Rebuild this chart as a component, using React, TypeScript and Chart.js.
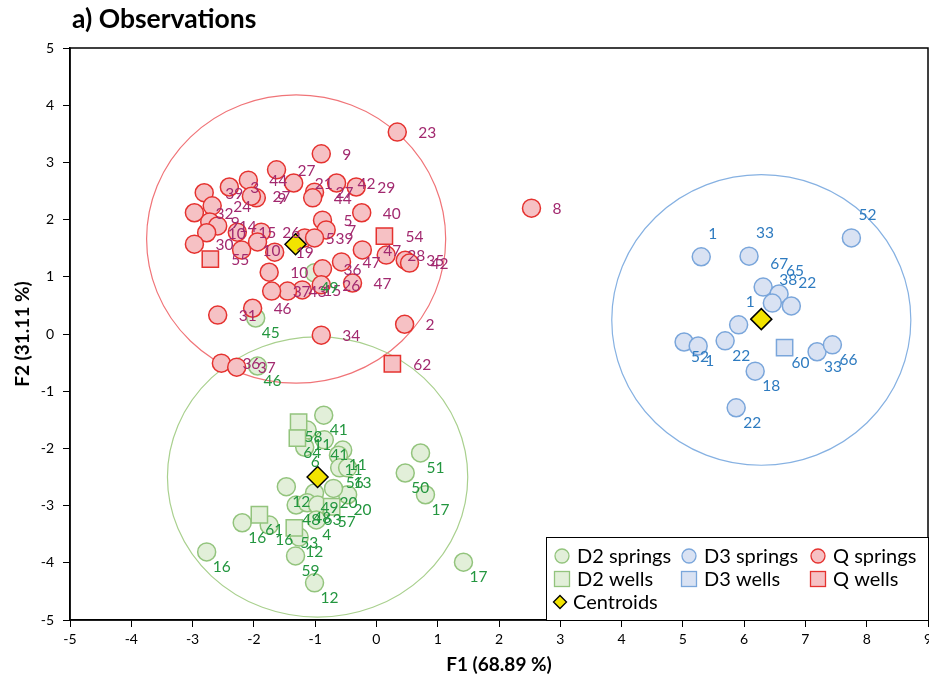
import React, { useEffect, useRef } from "react";
import { Chart, registerables } from "chart.js";
Chart.register(...registerables);

// ---------- DATA ----------
const qSpringX = [0.34, 2.53, -0.9, -1.63, -2.09, -1.35, -0.65, -0.33, -1.01, -1.04, -0.24, -0.88, -0.82, -1.17, -1.01, -0.23, 0.16, 0.47, 0.54, -0.57, -0.88, -0.39, -0.9, -1.21, -1.45, -1.71, 0.46, -0.9, -2.59, -2.02, -2.53, -2.28, -2.97, -2.81, -2.4, -1.96, -2.04, -2.68, -2.72, -2.59, -2.77, -2.27, -1.88, -2.97, -2.2, -1.94, -1.66, -1.75];
const qSpringY = [3.53, 2.2, 3.15, 2.87, 2.69, 2.64, 2.64, 2.57, 2.48, 2.38, 2.12, 1.99, 1.82, 1.68, 1.68, 1.47, 1.38, 1.29, 1.24, 1.26, 1.14, 0.89, 0.86, 0.77, 0.75, 0.75, 0.17, -0.02, 0.33, 0.45, -0.51, -0.58, 2.12, 2.47, 2.57, 2.38, 2.41, 2.24, 1.96, 1.89, 1.77, 1.78, 1.78, 1.57, 1.47, 1.61, 1.43, 1.08];
const qSpringLabels = ["23", "8", "9", "27", "44", "21", "42", "29", "27", "44", "40", "5", "7", "5", "39", "47", "28", "35", "42", "47", "36", "47", "26", "15", "43", "37", "2", "34", "31", "46", "36", "37", "32", "39", "3", "9", "27", "24", "9", "14", "10", "15", "26", "30", "10", "", "19", "10"];

const qWellX = [0.13, -2.71, 0.26];
const qWellY = [1.71, 1.31, -0.52];
const qWellLabels = ["54", "55", "62"];

const d3SpringX = [7.75, 5.3, 6.08, 6.31, 6.57, 6.46, 6.77, 5.91, 5.02, 5.25, 5.69, 7.19, 7.44, 6.18, 5.87];
const d3SpringY = [1.68, 1.35, 1.36, 0.82, 0.7, 0.54, 0.49, 0.16, -0.14, -0.21, -0.12, -0.31, -0.19, -0.65, -1.29];
const d3SpringLabels = ["52", "1", "33", "67", "65", "38", "22", "1", "52", "1", "22", "33", "66", "18", "22"];

const d3WellX = [6.66];
const d3WellY = [-0.24];
const d3WellLabels = ["60"];

const d2SpringX = [-0.86, -1.13, -0.85, -1.17, -0.55, -0.62, -0.6, -0.47, -1.47, -1.01, -0.47, -0.7, -1.31, -1.13, -0.96, -0.98, -2.19, -1.75, -1.26, -1.32, -2.77, -1.01, 0.72, 0.47, 0.8, 1.42, -1.97, -1.94, -1.01];
const d2SpringY = [-1.42, -1.68, -1.85, -1.98, -2.03, -2.12, -2.34, -2.34, -2.67, -2.78, -2.81, -2.7, -2.99, -2.95, -2.99, -3.25, -3.3, -3.34, -3.55, -3.88, -3.81, -4.35, -2.08, -2.43, -2.81, -3.99, 0.28, -0.56, 1.07];
const d2SpringLabels = ["41", "11", "41", "6", "11", "11", "56", "13", "12", "49", "20", "20", "48", "48", "63", "4", "16", "16", "12", "59", "16", "12", "51", "50", "17", "17", "45", "46", "49"];

const d2WellX = [-1.27, -1.29, -1.91, -1.34, -0.73];
const d2WellY = [-1.54, -1.82, -3.16, -3.39, -3.02];
const d2WellLabels = ["58", "64", "61", "53", "57"];

const centroidX = [-1.32, -0.96, 6.28];
const centroidY = [1.57, -2.5, 0.26];

// confidence ellipses (centre and semi-axes in F1/F2 units)
const ellipseCX = [-1.31, -0.96, 6.28];
const ellipseCY = [1.66, -2.5, 0.245];
const ellipseRX = [2.44, 2.45, 2.44];
const ellipseRY = [2.52, 2.45, 2.54];

const xTickValues = [-5, -4, -3, -2, -1, 0, 1, 2, 3, 4, 5, 6, 7, 8, 9];
const yTickValues = [-5, -4, -3, -2, -1, 0, 1, 2, 3, 4, 5];

// ---------- STYLES ----------
const RED = { fill: "#F6C1C4", stroke: "#E5322F", text: "#A2296F", ell: "#F07478" };
const GREEN = { fill: "#E2EFD9", stroke: "#93C47D", text: "#23963F", ell: "#A9D08E" };
const BLUE = { fill: "#D9E2F3", stroke: "#7AA6DB", text: "#2E7BC0", ell: "#86B1E2" };
const FONT = "Lato, 'Open Sans', sans-serif";

const pts = (xs: number[], ys: number[]) => xs.map((x, i) => ({ x, y: ys[i] }));

export default function App() {
  const ref = useRef<HTMLCanvasElement | null>(null);

  useEffect(() => {
    if (!ref.current) return;

    const ellipsePlugin = {
      id: "ellipses",
      beforeDatasetsDraw(chart: any) {
        const { ctx, scales, chartArea } = chart;
        const xs = scales.x, ys = scales.y;
        const cols = [RED.ell, GREEN.ell, BLUE.ell];
        ctx.save();
        ctx.beginPath();
        ctx.rect(chartArea.left, chartArea.top, chartArea.right - chartArea.left, chartArea.bottom - chartArea.top);
        ctx.clip();
        for (let i = 0; i < ellipseCX.length; i++) {
          const cx = xs.getPixelForValue(ellipseCX[i]);
          const cy = ys.getPixelForValue(ellipseCY[i]);
          const rx = Math.abs(xs.getPixelForValue(ellipseCX[i] + ellipseRX[i]) - cx);
          const ry = Math.abs(ys.getPixelForValue(ellipseCY[i] + ellipseRY[i]) - cy);
          ctx.beginPath();
          ctx.ellipse(cx, cy, rx, ry, 0, 0, Math.PI * 2);
          ctx.strokeStyle = cols[i];
          ctx.lineWidth = 1.2;
          ctx.stroke();
        }
        ctx.restore();
      },
    };

    const labelPlugin = {
      id: "pointLabels",
      afterDatasetsDraw(chart: any) {
        const { ctx } = chart;
        ctx.save();
        ctx.font = `15.5px ${FONT}`;
        ctx.textBaseline = "middle";
        ctx.textAlign = "left";
        chart.data.datasets.forEach((ds: any, di: number) => {
          if (!ds.pointLabels) return;
          const meta = chart.getDatasetMeta(di);
          meta.data.forEach((el: any, i: number) => {
            const txt = ds.pointLabels[i];
            if (!txt) return;
            let dx = 21, dy = 1;
            if (ds.group === "green") { dx = 6; dy = 15; }
            if (ds.group === "blue") {
              const yv = ds.data[i].y;
              if (yv >= 0) { dx = 7; dy = -23; } else { dx = 7; dy = 15; }
            }
            ctx.fillStyle = ds.labelColor;
            ctx.fillText(txt, el.x + dx, el.y + dy);
          });
        });
        ctx.restore();
      },
    };

    const framePlugin = {
      id: "frame",
      afterDraw(chart: any) {
        const { ctx, chartArea } = chart;
        ctx.save();
        ctx.strokeStyle = "#000";
        ctx.lineWidth = 1.5;
        ctx.strokeRect(chartArea.left, chartArea.top, chartArea.right - chartArea.left, chartArea.bottom - chartArea.top);
        // title
        ctx.fillStyle = "#000";
        ctx.font = `bold 26.5px ${FONT}`;
        ctx.textBaseline = "middle";
        ctx.textAlign = "left";
        ctx.fillText("a) Observations", 72, 19);
        // legend
        const w = 382, h = 83;
        const lx = chartArea.right - w, ly = chartArea.bottom - h;
        ctx.fillStyle = "#fff";
        ctx.fillRect(lx, ly, w, h);
        ctx.lineWidth = 1;
        ctx.strokeRect(lx + 0.5, ly + 0.5, w, h);
        const colX = [16, 143, 272];
        const rowY = [19, 42, 65];
        const groups = [GREEN, BLUE, RED];
        const springNames = ["D2 springs", "D3 springs", "Q springs"];
        const wellNames = ["D2 wells", "D3 wells", "Q wells"];
        ctx.font = `20px ${FONT}`;
        for (let c = 0; c < 3; c++) {
          const g = groups[c];
          const mx = lx + colX[c];
          ctx.beginPath();
          ctx.arc(mx, ly + rowY[0], 7, 0, Math.PI * 2);
          ctx.fillStyle = g.fill; ctx.fill();
          ctx.strokeStyle = g.stroke; ctx.lineWidth = 1.3; ctx.stroke();
          ctx.fillStyle = "#000";
          ctx.fillText(springNames[c], mx + 15, ly + rowY[0] + 1);
          ctx.fillStyle = g.fill;
          ctx.fillRect(mx - 7.5, ly + rowY[1] - 7.5, 15, 15);
          ctx.strokeStyle = g.stroke;
          ctx.strokeRect(mx - 7.5, ly + rowY[1] - 7.5, 15, 15);
          ctx.fillStyle = "#000";
          ctx.fillText(wellNames[c], mx + 15, ly + rowY[1] + 1);
        }
        const dx0 = lx + 14, dy0 = ly + rowY[2];
        ctx.beginPath();
        ctx.moveTo(dx0, dy0 - 6.5); ctx.lineTo(dx0 + 6.5, dy0); ctx.lineTo(dx0, dy0 + 6.5); ctx.lineTo(dx0 - 6.5, dy0); ctx.closePath();
        ctx.fillStyle = "#F2E300"; ctx.fill();
        ctx.strokeStyle = "#000"; ctx.lineWidth = 1.3; ctx.stroke();
        ctx.fillStyle = "#000";
        ctx.fillText("Centroids", dx0 + 13, dy0 + 1);
        ctx.restore();
      },
    };

    const circleDs = (label: string, xs: number[], ys: number[], labels: string[], g: any, group: string) => ({
      label, data: pts(xs, ys), pointLabels: labels, group, labelColor: g.text,
      pointStyle: "circle", pointRadius: 9, pointBackgroundColor: g.fill, pointBorderColor: g.stroke, pointBorderWidth: 1.5,
      showLine: false,
    });
    const squareDs = (label: string, xs: number[], ys: number[], labels: string[], g: any, group: string) => ({
      label, data: pts(xs, ys), pointLabels: labels, group, labelColor: g.text,
      pointStyle: "rect", pointRadius: 11.5, pointBackgroundColor: g.fill, pointBorderColor: g.stroke, pointBorderWidth: 1.5,
      showLine: false,
    });

    const chart = new Chart(ref.current, {
      type: "scatter",
      data: {
        datasets: [
          {
            label: "Centroids", data: pts(centroidX, centroidY), pointStyle: "rectRot", pointRadius: 10.5,
            pointBackgroundColor: "#F2E300", pointBorderColor: "#000", pointBorderWidth: 1.5, showLine: false,
          } as any,
          circleDs("Q springs", qSpringX, qSpringY, qSpringLabels, RED, "red"),
          squareDs("Q wells", qWellX, qWellY, qWellLabels, RED, "red"),
          circleDs("D3 springs", d3SpringX, d3SpringY, d3SpringLabels, BLUE, "blue"),
          squareDs("D3 wells", d3WellX, d3WellY, d3WellLabels, BLUE, "blue"),
          squareDs("D2 wells", d2WellX, d2WellY, d2WellLabels, GREEN, "green"),
          circleDs("D2 springs", d2SpringX, d2SpringY, d2SpringLabels, GREEN, "green"),
        ],
      },
      options: {
        animation: false,
        responsive: false,
        maintainAspectRatio: false,
        layout: { autoPadding: false, padding: { top: 48, right: 1, left: 0, bottom: 0 } },
        plugins: { legend: { display: false }, tooltip: { enabled: false }, title: { display: false } },
        scales: {
          x: {
            type: "linear", min: -5, max: 9,
            afterFit: (s: any) => { s.height = 65; s.paddingRight = 0; s.paddingLeft = 0; },
            afterBuildTicks: (s: any) => { s.ticks = xTickValues.map((v) => ({ value: v })); },
            ticks: { color: "#000", font: { family: FONT, size: 14 }, padding: 4 },
            grid: { drawOnChartArea: false, drawTicks: true, tickLength: 7, color: "#000", lineWidth: 1 },
            border: { display: true, color: "#000", width: 1.5 },
            title: { display: true, text: "F1 (68.89 %)", color: "#000", font: { family: FONT, size: 19, weight: "bold" }, padding: { top: 9, bottom: 9 } },
          },
          y: {
            type: "linear", min: -5, max: 5,
            afterFit: (s: any) => { s.width = 70; },
            afterBuildTicks: (s: any) => { s.ticks = yTickValues.map((v) => ({ value: v })); },
            ticks: { color: "#000", font: { family: FONT, size: 14 }, padding: 9 },
            grid: { drawOnChartArea: false, drawTicks: true, tickLength: 7, color: "#000", lineWidth: 1 },
            border: { display: true, color: "#000", width: 1.5 },
            title: { display: true, text: "F2 (31.11 %)", color: "#000", font: { family: FONT, size: 19, weight: "bold" }, padding: { top: 11, bottom: 0 } },
          },
        },
      } as any,
      plugins: [ellipsePlugin, labelPlugin, framePlugin],
    });
    return () => chart.destroy();
  }, []);

  return (
    <div style={{ position: "fixed", left: 0, top: 0, width: 929, height: 685, background: "#fff" }}>
      <canvas ref={ref} width={929} height={685} style={{ display: "block", width: 929, height: 685 }} />
    </div>
  );
}
